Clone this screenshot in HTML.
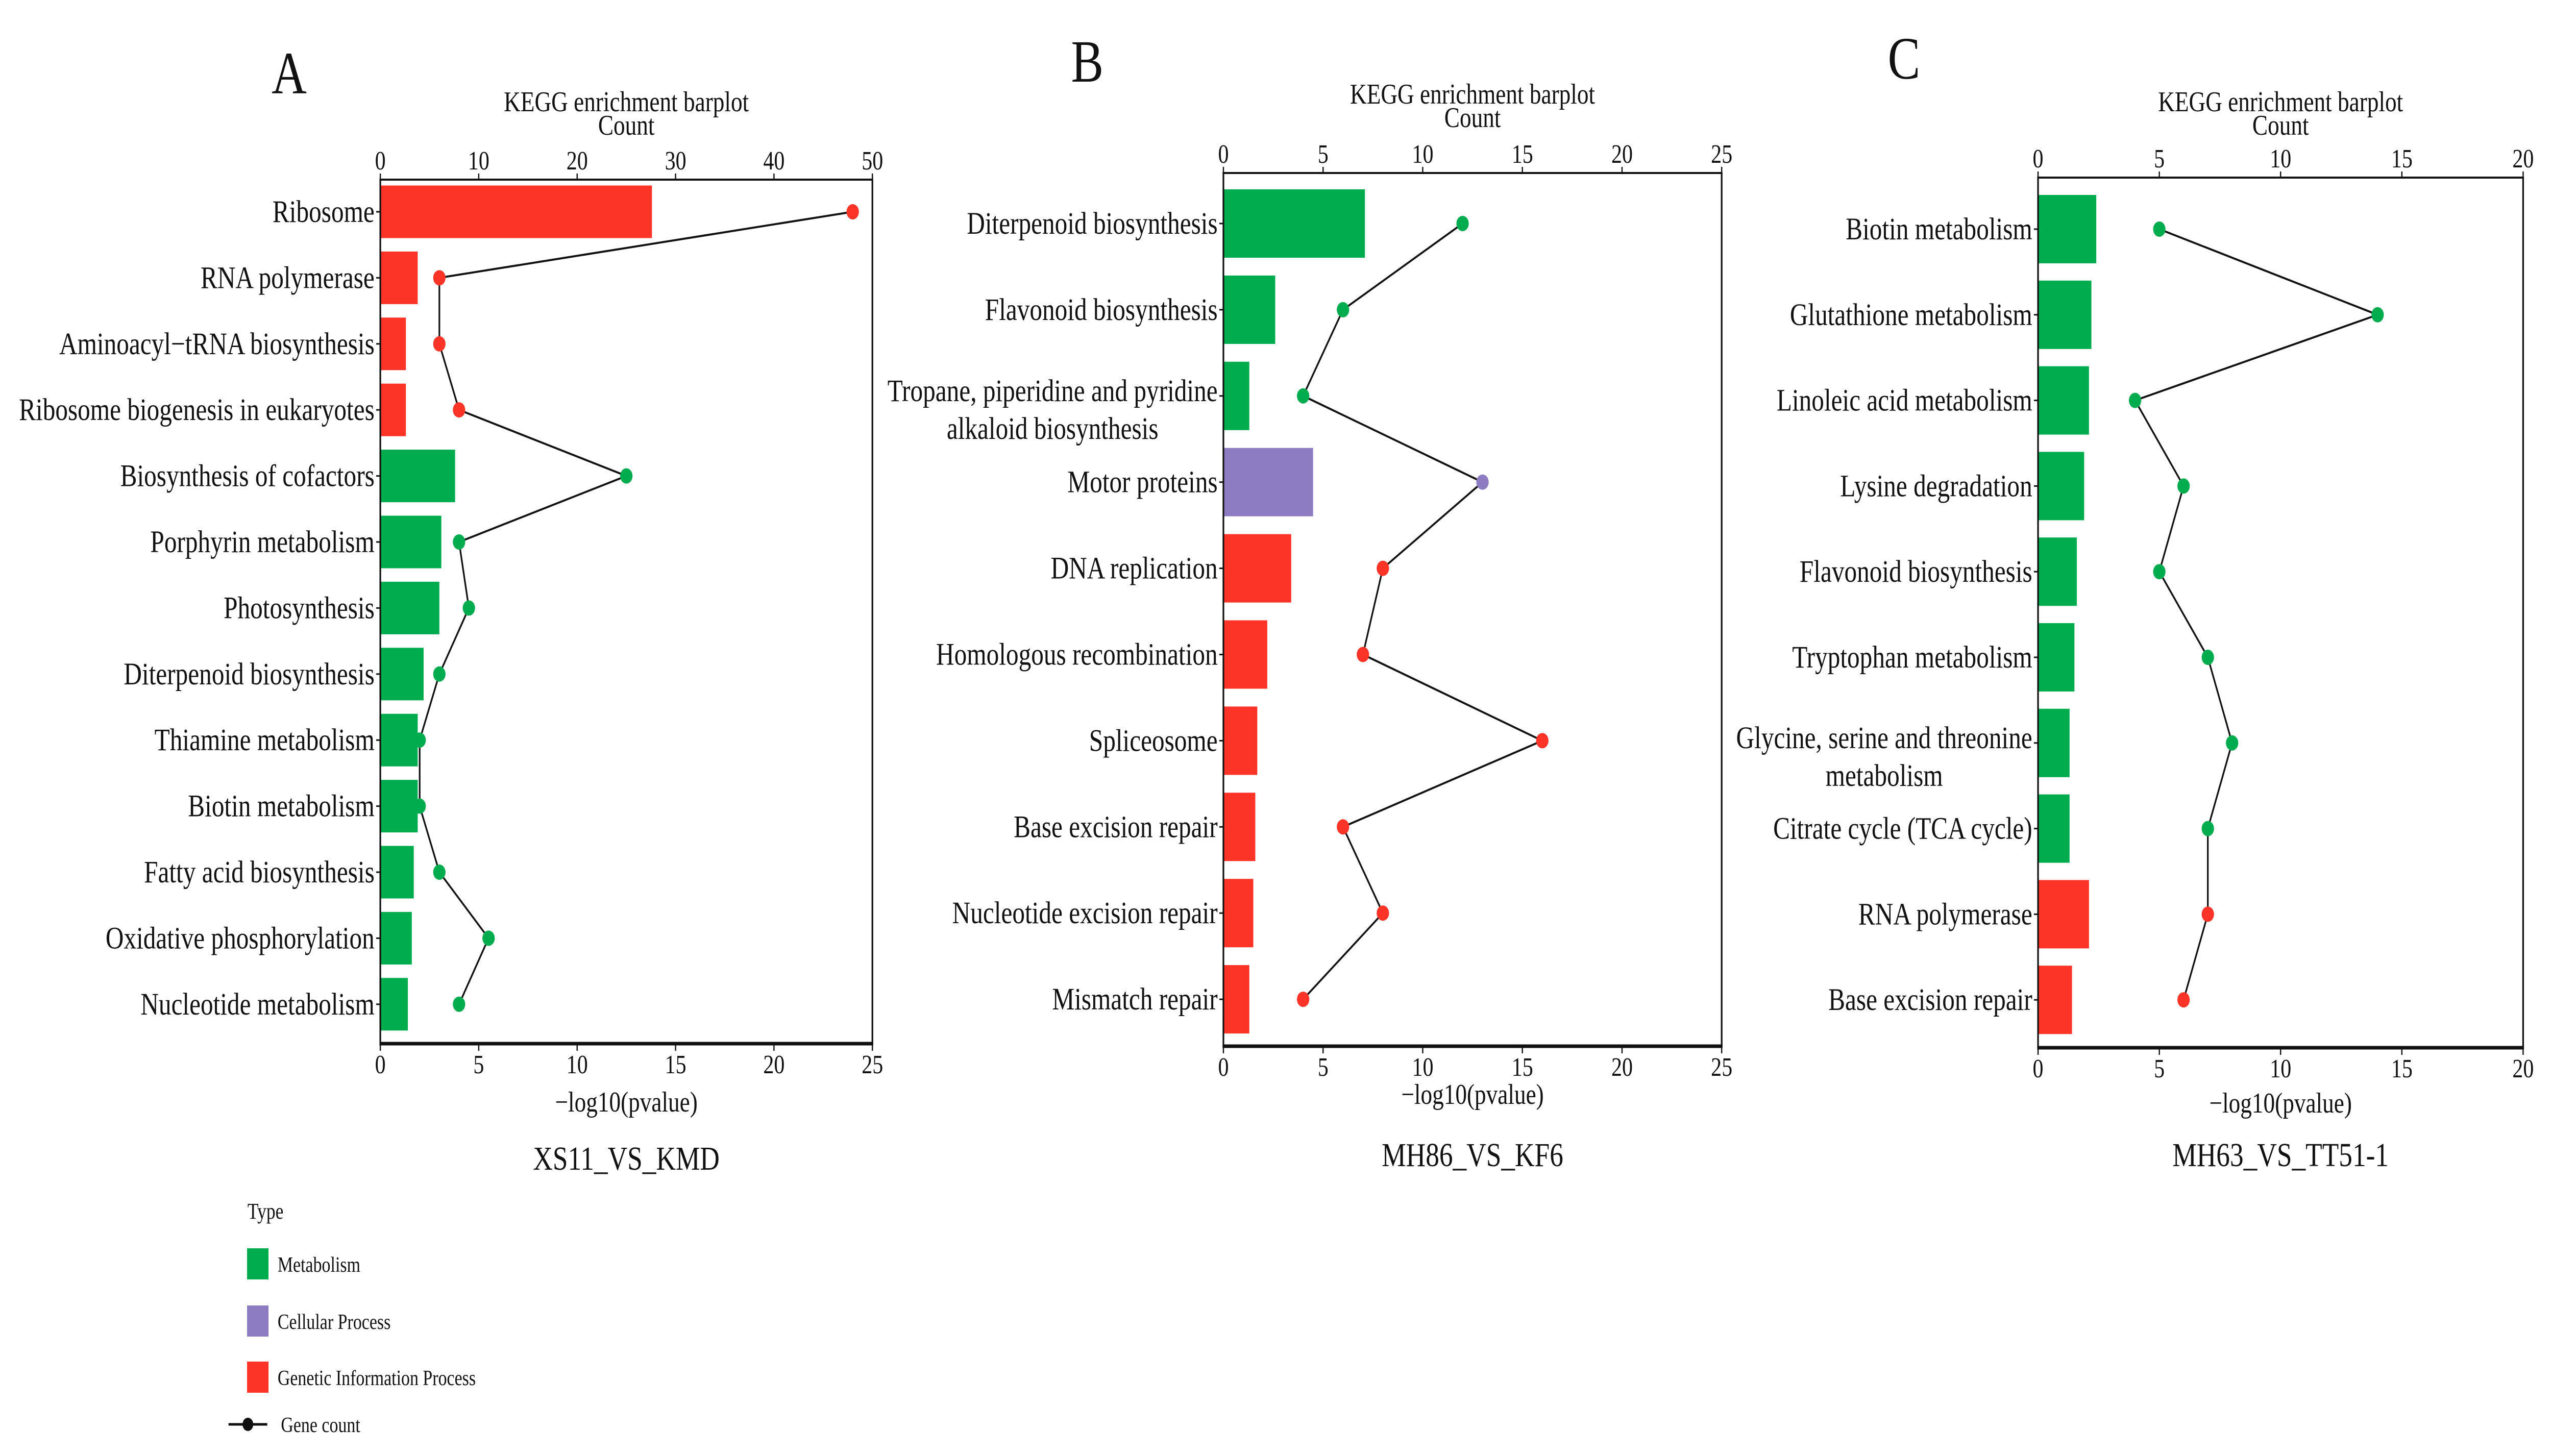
<!DOCTYPE html>
<html><head><meta charset="utf-8"><title>KEGG enrichment barplots</title>
<style>html,body{margin:0;padding:0;background:#fff;width:100%;height:100%;overflow:hidden}svg{display:block;width:100vw;height:100vh}text{font-family:"Liberation Serif",serif;fill:#111}</style>
</head><body>
<svg id="fig" viewBox="0 0 6187 2853" preserveAspectRatio="none" xmlns="http://www.w3.org/2000/svg"></svg>
<script>
// ---- Panel A data ----
const catsA = ["Ribosome","RNA polymerase","Aminoacyl\u2212tRNA biosynthesis","Ribosome biogenesis in eukaryotes","Biosynthesis of cofactors","Porphyrin metabolism","Photosynthesis","Diterpenoid biosynthesis","Thiamine metabolism","Biotin metabolism","Fatty acid biosynthesis","Oxidative phosphorylation","Nucleotide metabolism"];
const pvalA = [13.8,1.9,1.3,1.3,3.8,3.1,3.0,2.2,1.9,1.9,1.7,1.6,1.4];
const countA = [48,6,6,8,25,8,9,6,4,4,6,11,8];
const typeA = ["G","G","G","G","M","M","M","M","M","M","M","M","M"];
const pTicksA = [0,5,10,15,20,25];
const cTicksA = [0,10,20,30,40,50];
// ---- Panel B data ----
const catsB = ["Diterpenoid biosynthesis","Flavonoid biosynthesis","Tropane, piperidine and pyridine|alkaloid biosynthesis","Motor proteins","DNA replication","Homologous recombination","Spliceosome","Base excision repair","Nucleotide excision repair","Mismatch repair"];
const pvalB = [7.1,2.6,1.3,4.5,3.4,2.2,1.7,1.6,1.5,1.3];
const countB = [12,6,4,13,8,7,16,6,8,4];
const typeB = ["M","M","M","C","G","G","G","G","G","G"];
const pTicksB = [0,5,10,15,20,25];
const cTicksB = [0,5,10,15,20,25];
// ---- Panel C data ----
const catsC = ["Biotin metabolism","Glutathione metabolism","Linoleic acid metabolism","Lysine degradation","Flavonoid biosynthesis","Tryptophan metabolism","Glycine, serine and threonine|metabolism","Citrate cycle (TCA cycle)","RNA polymerase","Base excision repair"];
const pvalC = [2.4,2.2,2.1,1.9,1.6,1.5,1.3,1.3,2.1,1.4];
const countC = [5,14,4,6,5,7,8,7,7,6];
const typeC = ["M","M","M","M","M","M","M","M","G","G"];
const pTicksC = [0,5,10,15,20];
const cTicksC = [0,5,10,15,20];

const COLORS = {M:"#00ac4e", C:"#8e7cc3", G:"#fc3428"};
const NS = "http://www.w3.org/2000/svg";
const svg = document.getElementById("fig");
function mk(tag, attrs, parent, txt){
  const e = document.createElementNS(NS, tag);
  for (const k in attrs) e.setAttribute(k, attrs[k]);
  if (txt !== undefined) e.textContent = txt;
  (parent || svg).appendChild(e);
  return e;
}

function panel(cfg){
  const g = mk("g", {});
  
  
  const {L,R,T,B,first,step,barH} = cfg;
  const pMax = cfg.pTicks[cfg.pTicks.length-1], cMax = cfg.cTicks[cfg.cTicks.length-1];
  const xP = v => L + (R-L)*v/pMax;
  const xC = v => L + (R-L)*v/cMax;
  const yR = i => first + step*i;

  const letter = mk("text", {x:cfg.letterX, y:cfg.letterY, "font-size":118, "text-anchor":"middle"}, g, cfg.id);
  
  
  const t1 = mk("text", {x:(L+R)/2, y:cfg.titleY, "font-size":56, "text-anchor":"middle"}, g, "KEGG enrichment barplot");
  
  
  const t2 = mk("text", {x:(L+R)/2, y:cfg.titleY+46, "font-size":56, "text-anchor":"middle"}, g, "Count");
  
  

  cfg.cats.forEach((c,i)=>{
    const r = mk("rect", {x:L, y:yR(i)-barH/2, width:xP(cfg.pval[i])-L, height:barH, fill:COLORS[cfg.type[i]]}, g);
    
    
  });
  const box = mk("rect", {x:L, y:T, width:R-L, height:B-T, fill:"none", stroke:"#111", "stroke-width":4}, g);
  
  
  mk("line", {x1:L-2, x2:R+2, y1:B, y2:B, stroke:"#111", "stroke-width":7}, g);

  cfg.pTicks.forEach(v=>{
    mk("line", {x1:xP(v), x2:xP(v), y1:B, y2:B+14, stroke:"#111", "stroke-width":3}, g);
    const t = mk("text", {x:xP(v), y:B+58, "font-size":52, "text-anchor":"middle"}, g, String(v));
    
    
  });
  cfg.cTicks.forEach(v=>{
    mk("line", {x1:xC(v), x2:xC(v), y1:T, y2:T-12, stroke:"#111", "stroke-width":3}, g);
    const t = mk("text", {x:xC(v), y:T-20, "font-size":52, "text-anchor":"middle"}, g, String(v));
    
    
  });
  const xl = mk("text", {x:(L+R)/2, y:cfg.xlabY, "font-size":56, "text-anchor":"middle"}, g, "\u2212log10(pvalue)");
  
  
  const st = mk("text", {x:(L+R)/2, y:cfg.subY, "font-size":66, "text-anchor":"middle", fill:"#2a1d1d"}, g, cfg.sub);
  
  

  cfg.cats.forEach((c,i)=>{
    mk("line", {x1:L-10, x2:L, y1:yR(i), y2:yR(i), stroke:"#111", "stroke-width":3}, g);
    const parts = c.split("|");
    if (parts.length === 1){
      const t = mk("text", {x:L-14, y:yR(i)+20, "font-size":61, "text-anchor":"end"}, g, c);
      
      
    } else {
      const t = mk("text", {x:L-14, y:yR(i)+10, "font-size":61, "text-anchor":"end"}, g, parts[0]);
      
      
      const w = t.getComputedTextLength();
      const t2b = mk("text", {x:L-14-w/2, y:yR(i)+84, "font-size":61, "text-anchor":"middle"}, g, parts[1]);
      
      
    }
  });

  const pts = cfg.count.map((v,i)=>xC(v)+","+yR(i)).join(" ");
  const pl = mk("polyline", {points:pts, fill:"none", stroke:"#111", "stroke-width":4}, g);
  
  
  cfg.count.forEach((v,i)=>{
    const c = mk("circle", {cx:xC(v), cy:yR(i), r:15, fill:COLORS[cfg.type[i]]}, g);
    
    
  });
}

panel({id:"A", cats:catsA, pval:pvalA, count:countA, type:typeA, pTicks:pTicksA, cTicks:cTicksA,
  L:922, R:2115, T:352, B:2045, first:415, step:129.4, barH:103,
  letterX:701, letterY:183, titleY:218, xlabY:2178, subY:2292, sub:"XS11_VS_KMD"});
panel({id:"B", cats:catsB, pval:pvalB, count:countB, type:typeB, pTicks:pTicksB, cTicks:cTicksB,
  L:2966, R:4174, T:339, B:2050, first:438, step:168.9, barH:134,
  letterX:2636, letterY:160, titleY:203, xlabY:2163, subY:2285, sub:"MH86_VS_KF6"});
panel({id:"C", cats:catsC, pval:pvalC, count:countC, type:typeC, pTicks:pTicksC, cTicks:cTicksC,
  L:4941, R:6117, T:348, B:2053, first:449, step:167.8, barH:134,
  letterX:4616, letterY:154, titleY:218, xlabY:2180, subY:2285, sub:"MH63_VS_TT51-1"});

const lg = mk("g", {});


const lt = mk("text", {x:600, y:2388, "font-size":44}, lg, "Type");


const legItems = [["Metabolism","M",2446],["Cellular Process","C",2558],["Genetic Information Process","G",2668]];
legItems.forEach(([name,k,y])=>{
  const r = mk("rect", {x:599, y:y, width:52, height:61, fill:COLORS[k]}, lg);
  
  
  const t = mk("text", {x:673, y:y+46, "font-size":42}, lg, name);
  
  
});
mk("line", {x1:554, x2:648, y1:2791, y2:2791, stroke:"#111", "stroke-width":5}, lg);
const gc = mk("circle", {cx:601, cy:2791, r:13, fill:"#111"}, lg);


const gt = mk("text", {x:681, y:2806, "font-size":42}, lg, "Gene  count");


</script>
</body></html>
